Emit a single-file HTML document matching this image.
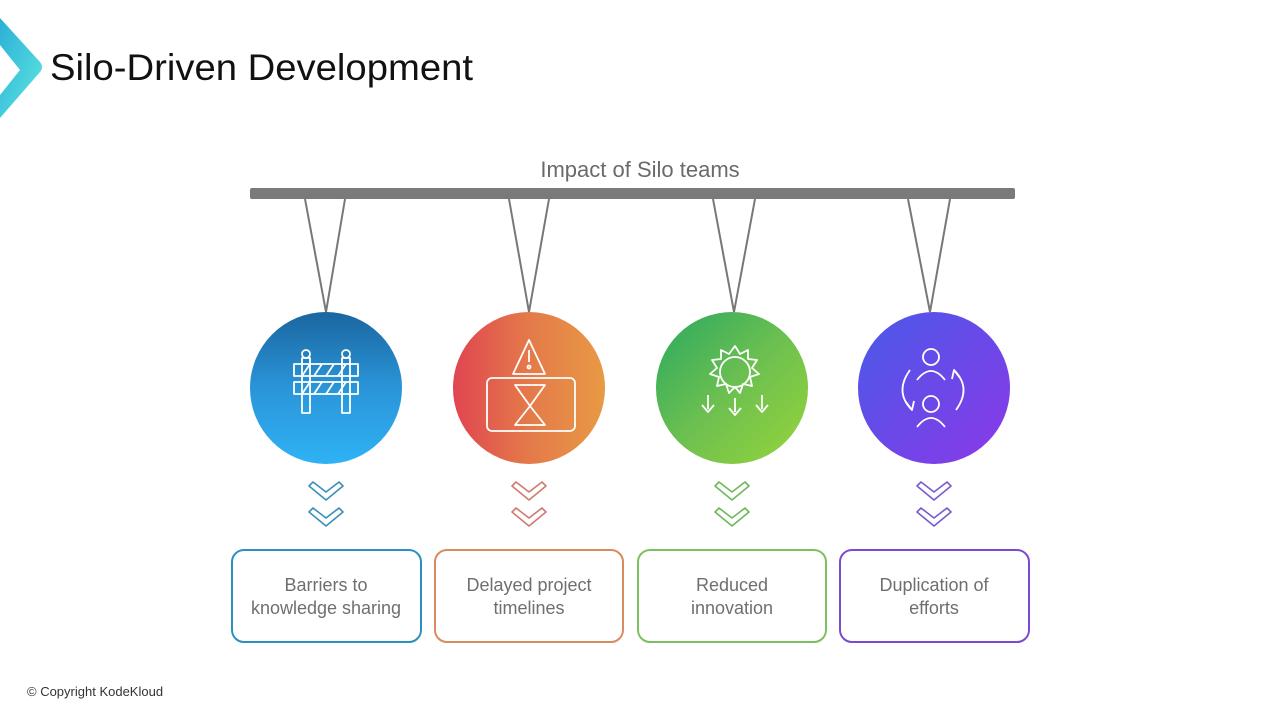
<!DOCTYPE html>
<html><head><meta charset="utf-8"><style>
body{margin:0;width:1280px;height:720px;background:#fff;overflow:hidden;font-family:"Liberation Sans",sans-serif}
</style></head><body>
<svg width="1280" height="720" viewBox="0 0 1280 720" xmlns="http://www.w3.org/2000/svg">
<defs>
<linearGradient id="lg0" x1="0" y1="0" x2="1" y2="1"><stop offset="0" stop-color="#2bb0d8"/><stop offset="1" stop-color="#5ee6e0"/></linearGradient>
<linearGradient id="c1" x1="0" y1="0" x2="0" y2="1"><stop offset="0" stop-color="#1a66a0"/><stop offset="0.5" stop-color="#2a95d8"/><stop offset="1" stop-color="#2fb2f5"/></linearGradient>
<linearGradient id="c2" x1="0" y1="0" x2="1" y2="0"><stop offset="0" stop-color="#e04550"/><stop offset="0.5" stop-color="#e47a4a"/><stop offset="1" stop-color="#e89a44"/></linearGradient>
<linearGradient id="c3" x1="0" y1="0" x2="1" y2="1"><stop offset="0" stop-color="#2aa860"/><stop offset="0.5" stop-color="#6cc050"/><stop offset="1" stop-color="#98d43a"/></linearGradient>
<linearGradient id="c4" x1="0" y1="0" x2="1" y2="1"><stop offset="0" stop-color="#4a5ae8"/><stop offset="1" stop-color="#8a38e8"/></linearGradient>
</defs>
<path d="M0 18 L40 62 Q44 67 40 72 L0 118 L0 95 L20 70 L0 45 Z" fill="url(#lg0)"/>
<text x="50" y="80" font-size="37" fill="#111" textLength="423" lengthAdjust="spacingAndGlyphs">Silo-Driven Development</text>
<text x="640" y="177" font-size="22" fill="#6a6a6a" text-anchor="middle">Impact of Silo teams</text>
<rect x="250" y="188" width="765" height="11" rx="2" fill="#7a7a7a"/>
<g stroke="#777" stroke-width="2" fill="none">
<path d="M305 199 L326 312 L345 199"/>
<path d="M509 199 L529 312 L549 199"/>
<path d="M713 199 L734 312 L755 199"/>
<path d="M908 199 L930 312 L950 199"/>
</g>
<circle cx="326" cy="388" r="76" fill="url(#c1)"/>
<circle cx="529" cy="388" r="76" fill="url(#c2)"/>
<circle cx="732" cy="388" r="76" fill="url(#c3)"/>
<circle cx="934" cy="388" r="76" fill="url(#c4)"/>
<g stroke="#fff" stroke-width="1.8" fill="none" stroke-linejoin="round">
<circle cx="306" cy="354" r="4"/><circle cx="346" cy="354" r="4"/>
<rect x="302" y="358" width="8" height="55"/><rect x="342" y="358" width="8" height="55"/>
<rect x="294" y="364" width="64" height="12"/><rect x="294" y="382" width="64" height="12"/>
<path d="M302 376l8-12M314 376l8-12M326 376l8-12M338 376l8-12M302 394l8-12M314 394l8-12M326 394l8-12M338 394l8-12"/>
<path d="M529 340 L545 374 L513 374 Z"/><line x1="529" y1="350" x2="529" y2="362"/><circle cx="529" cy="367" r="1.5"/>
<rect x="487" y="378" width="88" height="53" rx="5"/>
<path d="M515 385 H545 L530 406 Z M530 406 L515 425 H545 Z"/>
<circle cx="735" cy="372" r="15"/>
<path d="M735 346l5 8 8-4 0 9 9 1-5 8 7 6-9 3 2 9-9-2-3 9-5-6-6 6-3-9-9 2 2-9-9-3 7-6-5-8 9-1 0-9 8 4z"/>
<path d="M708 395v14M702 405l6 7 6-7M735 398v14M729 408l6 7 6-7M762 395v14M756 405l6 7 6-7"/>
<circle cx="931" cy="357" r="8"/><path d="M917 380 q14-18 28 0"/>
<circle cx="931" cy="404" r="8"/><path d="M917 427 q14-18 28 0"/>
<path d="M910 370 q-16 22 2 40"/><path d="M906 402l6 8 2-9"/>
<path d="M956 410 q16-22-2-40"/><path d="M960 378l-6-8-2 9"/>
</g>
<g fill="none" stroke-width="1.6" stroke-linecap="round" stroke-linejoin="round">
<path d="M309 486l4-4 13 10 13-10 4 4-17 14zM309 512l4-4 13 10 13-10 4 4-17 14z" stroke="#3a90b8"/>
<path d="M512 486l4-4 13 10 13-10 4 4-17 14zM512 512l4-4 13 10 13-10 4 4-17 14z" stroke="#d07a70"/>
<path d="M715 486l4-4 13 10 13-10 4 4-17 14zM715 512l4-4 13 10 13-10 4 4-17 14z" stroke="#6cb85a"/>
<path d="M917 486l4-4 13 10 13-10 4 4-17 14zM917 512l4-4 13 10 13-10 4 4-17 14z" stroke="#7a5ad0"/>
</g>
<g fill="none" stroke-width="2">
<rect x="232" y="550" width="189" height="92" rx="12" stroke="#2a90c0"/>
<rect x="435" y="550" width="188" height="92" rx="12" stroke="#d88a60"/>
<rect x="638" y="550" width="188" height="92" rx="12" stroke="#7cc060"/>
<rect x="840" y="550" width="189" height="92" rx="12" stroke="#7a4ad0"/>
</g>
<g font-size="18" fill="#6f6f6f" text-anchor="middle">
<text x="326" y="591">Barriers to</text><text x="326" y="614">knowledge sharing</text>
<text x="529" y="591">Delayed project</text><text x="529" y="614">timelines</text>
<text x="732" y="591">Reduced</text><text x="732" y="614">innovation</text>
<text x="934" y="591">Duplication of</text><text x="934" y="614">efforts</text>
</g>
<text x="27" y="696" font-size="13" fill="#333">© Copyright KodeKloud</text>
</svg>
</body></html>
